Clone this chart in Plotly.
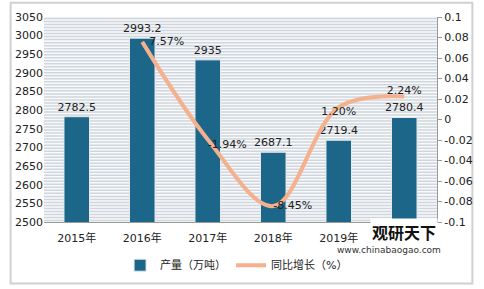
import plotly.graph_objects as go

years = ["2015年", "2016年", "2017年", "2018年", "2019年", "2020年"]
output = [2782.5, 2993.2, 2935, 2687.1, 2719.4, 2780.4]
growth = [None, 0.0757, -0.0194, -0.0845, 0.0120, 0.0224]
growth_labels = ["", "  7.57%", "-1.94%", "-8.45%", "1.20%", "2.24%"]
growth_label_pos = ["middle right", "middle right", "bottom right", "middle right", "bottom center", "top center"]
left_ticks = list(range(2500, 3051, 50))
right_ticks = [0.1, 0.08, 0.06, 0.04, 0.02, 0, -0.02, -0.04, -0.06, -0.08, -0.1]
right_tick_text = ["0.1", "0.08", "0.06", "0.04", "0.02", "0", "-0.02", "-0.04", "-0.06", "-0.08", "-0.1"]

FONT = "DejaVu Sans, Noto Sans CJK SC, sans-serif"
BAR = "#1B6689"
LINE = "#F5B08D"
STRIPE = "#d0d6dd"
N_STRIPES = 68

fig = go.Figure()
fig.add_trace(go.Bar(
    x=years, y=output, name="产量（万吨）", marker=dict(color=BAR, line=dict(color="#e6e9ec", width=1)),
    width=0.39, text=[str(v) for v in output], textposition="outside", constraintext="none",
    textfont=dict(size=11, color="#222", family=FONT), cliponaxis=False, yaxis="y",
))
fig.add_trace(go.Scatter(
    x=years, y=growth, name="同比增长（%）", mode="lines+text", yaxis="y2",
    line=dict(color=LINE, width=4, shape="spline", smoothing=1.0),
    text=growth_labels, textposition=growth_label_pos,
    textfont=dict(size=11, color="#222", family=FONT), cliponaxis=False,
))

fig.update_layout(
    width=484, height=289,
    margin=dict(l=44, r=47, t=17, b=67, autoexpand=False),
    paper_bgcolor="white", plot_bgcolor="#f8f9fb",
    font=dict(family=FONT, size=11, color="#222"),
    xaxis=dict(showgrid=False, showline=True, linecolor="#9a9a9a", linewidth=1,
               ticks="", tickfont=dict(size=11), ticklabelstandoff=6),
    yaxis=dict(range=[2500, 3050], tickvals=left_ticks, showgrid=False,
               zeroline=False, showline=False, ticks="", tickfont=dict(size=11)),
    yaxis2=dict(range=[-0.1, 0.1], overlaying="y", side="right", tickvals=right_ticks,
                ticktext=right_tick_text, showgrid=False, zeroline=False, showline=True,
                linecolor="#9a9a9a", ticks="outside", ticklen=4, tickcolor="#9a9a9a",
                tickfont=dict(size=11)),
    legend=dict(orientation="h", x=0.49, xanchor="center", y=-0.14, yanchor="top",
                bgcolor="white", font=dict(size=11, color="#222"), itemwidth=30,
                traceorder="normal"),
    showlegend=True,
)

# striped plot-area background (decoration)
for i in range(N_STRIPES):
    yy = (i + 0.5) / N_STRIPES
    fig.add_shape(type="line", xref="paper", yref="paper", x0=0, x1=1, y0=yy, y1=yy,
                  line=dict(color=STRIPE, width=1.5), layer="below")

fig.add_shape(type="rect", xref="paper", yref="paper", x0=-0.085, x1=1.09, y0=-0.3, y1=1.07,
              line=dict(color="#d0d0d0", width=2), layer="below")

fig.add_annotation(text="<b>观研天下</b>", xref="paper", yref="paper", x=0.915, y=-0.05,
                   xanchor="center", yanchor="middle", bgcolor="white",
                   showarrow=False, font=dict(size=16, color="#111", family="Noto Sans CJK SC"))
fig.add_annotation(text="www.chinabaogao.com", xref="paper", yref="paper", x=0.877, y=-0.137,
                   xanchor="center", yanchor="middle",
                   showarrow=False, font=dict(size=9, color="#333", family=FONT))

fig.write_html("out.html")
